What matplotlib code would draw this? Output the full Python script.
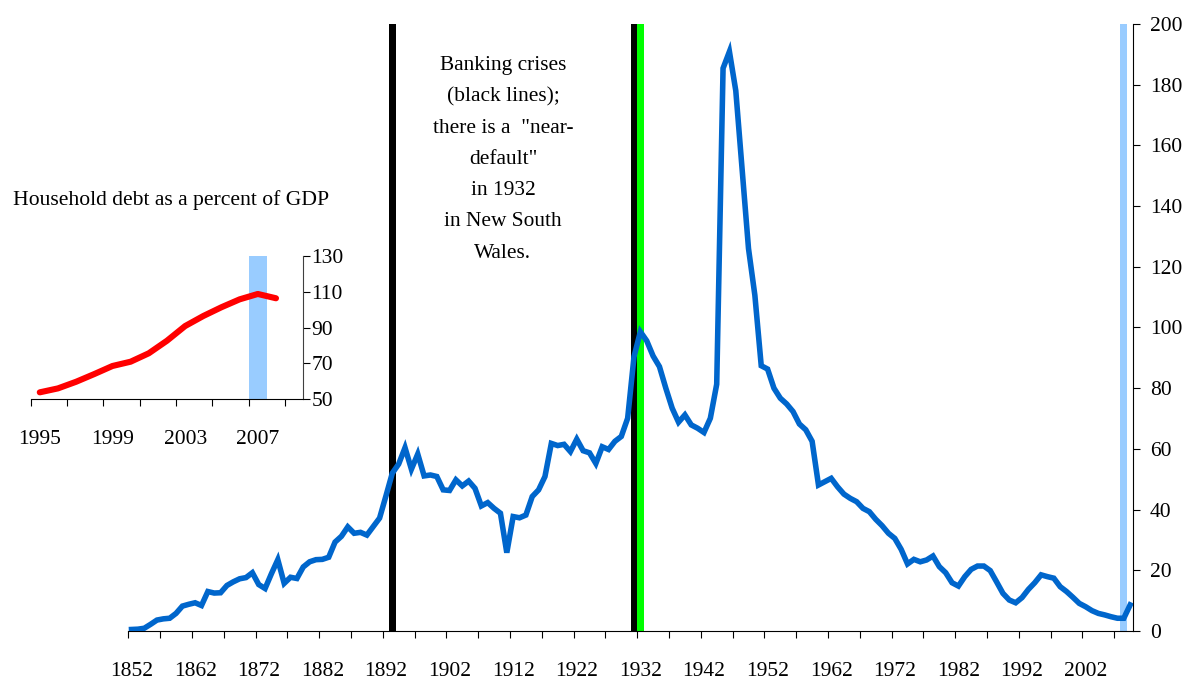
import matplotlib

matplotlib.use("Agg")
import matplotlib.pyplot as plt
import numpy as np

plt.rcParams["font.family"] = ["Liberation Serif", "DejaVu Serif"]
plt.rcParams["font.size"] = 15

# public debt as a percent of GDP, 1852-2009 (one value per year)
YEARS = np.arange(1852, 2010)
DEBT = [
    0.5, 0.6, 0.9, 2.2, 3.6, 4.0, 4.2, 5.8, 8.2, 8.8,            # 1852-1861
    9.3, 8.4, 13.0, 12.5, 12.6, 15.0, 16.2, 17.2, 17.6, 19.2,    # 1862-1871
    15.3, 14.0, 18.9, 23.5, 15.7, 17.7, 17.3, 21.1, 22.8, 23.5,  # 1872-1881
    23.6, 24.3, 29.3, 31.2, 34.3, 32.2, 32.5, 31.6, 34.4, 37.2,  # 1882-1891
    44.5, 52.0, 55.0, 60.4, 53.3, 58.3, 51.1, 51.4, 50.9, 46.5,  # 1892-1901
    46.3, 49.8, 47.8, 49.4, 47.0, 41.2, 42.3, 40.4, 38.8, 25.8,  # 1902-1911
    37.7, 37.3, 38.2, 44.3, 46.5, 50.9, 61.8, 61.1, 61.5, 59.1,  # 1912-1921
    63.2, 59.4, 58.7, 55.2, 60.7, 59.8, 62.5, 64.1, 70.1, 90.4,  # 1922-1931
    98.6, 95.6, 90.6, 87.1, 80.0, 73.4, 68.8, 71.2, 67.9, 66.8,  # 1932-1941
    65.4, 70.1, 81.3, 185.4, 190.9, 178.0, 152.0, 126.0, 110.6, 87.4,  # 1942-1951
    86.3, 80.0, 76.7, 74.8, 72.3, 68.2, 66.3, 62.5, 48.1, 49.2,  # 1952-1961
    50.3, 47.5, 45.1, 43.7, 42.6, 40.4, 39.3, 36.8, 34.7, 32.2,  # 1962-1971
    30.5, 26.9, 22.1, 23.6, 22.8, 23.4, 24.7, 21.2, 19.2, 15.9,  # 1972-1981
    14.8, 17.9, 20.3, 21.4, 21.4, 19.9, 16.2, 12.4, 10.2, 9.3,   # 1982-1991
    11.0, 13.7, 15.9, 18.5, 17.9, 17.4, 14.6, 13.0, 11.1, 9.1,   # 1992-2001
    8.0, 6.7, 5.8, 5.3, 4.7, 4.2, 4.2, 8.6,                      # 2002-2009
]
BANKING_CRISES = [1893, 1931]
NEAR_DEFAULT = [1932]
RECENT_CRISIS = [2008]

# inset: household debt as a percent of GDP
HH_YEARS = np.arange(1995, 2009)
HH_DEBT = [53.9, 56.1, 59.8, 64.1, 68.6, 71.0, 75.7, 82.7, 90.9, 96.5,
           101.4, 105.8, 108.8, 106.4]
HH_CRISIS = [2007]

NOTE = ('Banking crises\n(black lines);\nthere is a  "near-\ndefault"\n'
        'in 1932\nin New South\nWales.')

fig = plt.figure(figsize=(11.85, 6.79), dpi=100)

# --- main chart: category axis, points in the middle of each year slot
ax = fig.add_axes([0.1083, 0.0707, 0.8481, 0.894])
top = 200
ax.bar(np.array(BANKING_CRISES) + 0.5, top, width=1.1, color="black", zorder=1)
ax.bar(np.array(NEAR_DEFAULT) + 0.5, top, width=1.1, color="#00ff00", zorder=1)
ax.bar(np.array(RECENT_CRISIS) + 0.5, top, width=1.1, color="#99ccff", zorder=1)
ax.plot(YEARS + 0.5, DEBT, color="#0066cc", lw=4.0, zorder=3,
        solid_joinstyle="miter")

ax.set_xlim(YEARS[0], YEARS[-1] + 1)
ax.set_ylim(0, top)
for s in ("left", "top"):
    ax.spines[s].set_visible(False)
ax.yaxis.tick_right()
ax.set_yticks(np.arange(0, 201, 20))
ax.tick_params(axis="y", direction="out", length=5, pad=7, labelsize=15.5)
ax.set_xticks(np.arange(YEARS[0], YEARS[-1] + 1, 5))
ax.set_xticklabels([])
ax.tick_params(axis="x", which="major", direction="out", length=5)
lab_years = np.arange(YEARS[0], YEARS[-1], 10)
ax.set_xticks(lab_years + 0.5, minor=True)
ax.set_xticklabels([str(y) for y in lab_years], minor=True)
ax.tick_params(axis="x", which="minor", length=0, pad=22, labelsize=15.5)

ax.text(1910.9, 155.4, NOTE, ha="center", va="center", fontsize=15.4,
        linespacing=1.87)

# --- inset
ins = fig.add_axes([0.0259, 0.4119, 0.23, 0.2111])
ins.bar(np.array(HH_CRISIS) + 0.5, 80, bottom=50, width=1.0,
        color="#99ccff", zorder=1)
ins.plot(HH_YEARS + 0.5, HH_DEBT, color="#ff0000", lw=4.4, zorder=3,
         solid_capstyle="round")
ins.set_xlim(1995, 2010)
ins.set_ylim(50, 130)
for s in ("left", "top"):
    ins.spines[s].set_visible(False)
ins.spines["right"].set_color("#404040")
ins.yaxis.tick_right()
ins.set_yticks(np.arange(50, 131, 20))
ins.tick_params(axis="y", direction="out", length=5, pad=1, labelsize=15.5)
ins.set_xticks(np.arange(1995, 2010, 2))
ins.set_xticklabels([])
ins.tick_params(axis="x", which="major", direction="out", length=5)
hh_lab = np.arange(1995, 2009, 4)
ins.set_xticks(hh_lab + 0.5, minor=True)
ins.set_xticklabels([str(y) for y in hh_lab], minor=True)
ins.tick_params(axis="x", which="minor", length=0, pad=22, labelsize=15.5)
ins.patch.set_alpha(0)

fig.text(0.1443, 0.7054, "Household debt as a percent of GDP",
         ha="center", va="center", fontsize=15.6)

fig.savefig("out.png", dpi=100)
